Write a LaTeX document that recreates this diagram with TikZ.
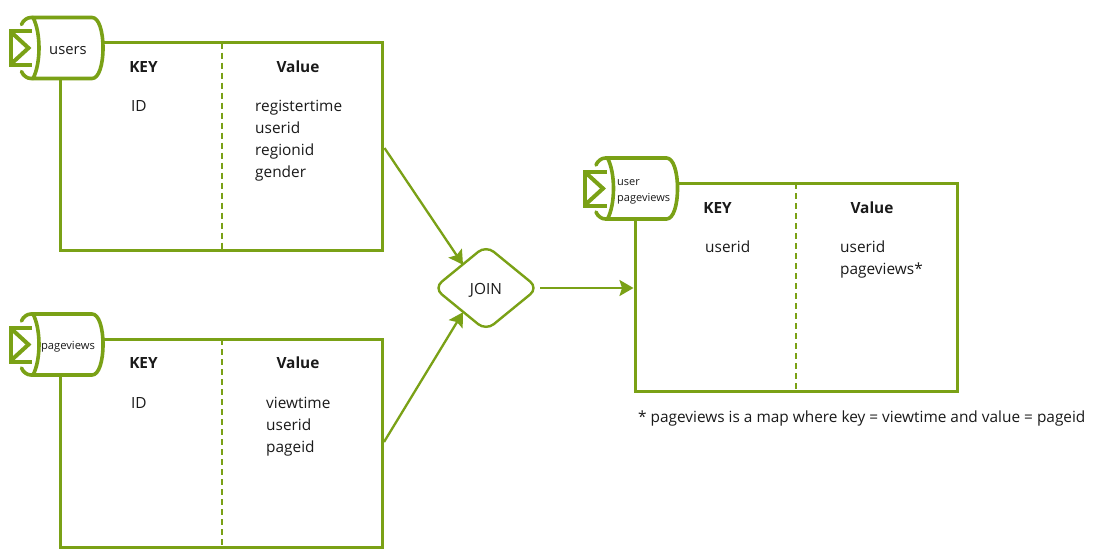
\documentclass[tikz,border=0pt]{standalone}
\usepackage{fontspec}
\setmainfont{Open Sans}
\usetikzlibrary{arrows.meta,shapes.geometric,calc}
\definecolor{aws}{HTML}{7AA116}
\definecolor{ink}{HTML}{1A1A1A}
\tikzset{
  tbl/.style={draw=aws,line width=3pt,rectangle,minimum width=322pt,minimum height=208pt,inner sep=0pt,outer sep=0pt,anchor=north west},
  divider/.style={draw=aws,line width=2pt,dash pattern=on 6pt off 4pt},
  flow/.style={draw=aws,line width=2.3pt,-{Stealth[length=14pt,width=16pt,inset=2.5pt]}},
  head/.style={font=\fontsize{15.4}{18}\selectfont\bfseries,text=ink,inner sep=0pt,anchor=base},
  cell/.style={font=\fontsize{15.4}{18}\selectfont,text=ink,inner sep=0pt,anchor=base west},
  topictxt/.style={text=ink,inner sep=0pt},
  topicline/.style={draw=aws,line width=3.6pt,line cap=round,line join=round},
  topicicon/.style={draw=aws,line width=4pt,line join=miter},
  topicpic/.pic={
    \path[topicline,fill=white] (33,0) -- (92,0) .. controls (99,0) and (103,14) .. (103,30.5) .. controls (103,47) and (99,61) .. (92,61) -- (33,61) .. controls (41,46) and (41,15) .. (33,0);
    \path[topicline] (33,0) -- (31,0) .. controls (27,0) and (23,3) .. (21.5,7);
    \path[topicline] (33,61) -- (31,61) .. controls (27,61) and (23,58) .. (21.5,54);
    \path[topicicon] (32,13.5) -- (10.5,13.5) -- (10.5,47.5) -- (32,47.5);
    \path[topicicon] (11,14.5) -- (28.5,30.5) -- (11,46.5);
  }
}
\begin{document}
\begin{tikzpicture}[x=1pt,y=-1pt]
\useasboundingbox (0,0) rectangle (1093,558);
\fill[white] (0,0) rectangle (1093,558);
% tables
\node[tbl] (t1) at (60.5,42.5) {};
\node[tbl] (t2) at (60.5,339) {};
\node[tbl] (t3) at (635,183) {};
\draw[divider] ($(t1.north west)+(161.5,0)$) -- ($(t1.south west)+(161.5,0)$);
\draw[divider] ($(t2.north west)+(161.5,0)$) -- ($(t2.south west)+(161.5,0)$);
\draw[divider] ($(t3.north west)+(161,0)$) -- ($(t3.south west)+(161,0)$);
% topics
\pic at (0,17.5) {topicpic};
\pic at (0,314) {topicpic};
\pic at (574.5,158) {topicpic};
\node[topictxt,font=\fontsize{14.8}{16}\selectfont,anchor=base] (n1) at (68,54) {users};
\node[topictxt,font=\fontsize{11.2}{12}\selectfont,anchor=base] (n2) at (68,349) {pageviews};
\node[topictxt,font=\fontsize{11}{12}\selectfont,anchor=base west] (n3a) at (617,185) {user};
\node[topictxt,font=\fontsize{11}{12}\selectfont,anchor=base west] (n3b) at (617,201.5) {pageviews};
% table 1
\node[head] (k1) at (143.5,72.5) {KEY};
\node[head] (v1) at (298,72.5) {Value};
\node[cell] (i1) at (131,111) {ID};
\node[cell] (a1) at (255,111) {registertime};
\node[cell] (a2) at (255,133) {userid};
\node[cell] (a3) at (255,155) {regionid};
\node[cell] (a4) at (255,177) {gender};
% table 2
\node[head] (k2) at (143.5,368.5) {KEY};
\node[head] (v2) at (298,368.5) {Value};
\node[cell] (i2) at (131,408) {ID};
\node[cell] (b1) at (266,408) {viewtime};
\node[cell] (b2) at (266,430) {userid};
\node[cell] (b3) at (266,452) {pageid};
% table 3
\node[head] (k3) at (717.5,213.5) {KEY};
\node[head] (v3) at (872,213.5) {Value};
\node[cell] (i3) at (705,252) {userid};
\node[cell] (c1) at (840,252) {userid};
\node[cell] (c2) at (840,274) {pageviews*};
\node[cell] (note) at (638,422.5) {* pageviews is a map where key = viewtime and value = pageid};
% join
\node[diamond,aspect=1.22,draw=aws,line width=2.4pt,rounded corners=10pt,minimum width=104pt,minimum height=85pt,inner sep=0pt,outer sep=0pt] (join) at (486,288) {};
\node[topictxt,font=\fontsize{15.4}{17}\selectfont,anchor=base] (joinlabel) at (486,294) {JOIN};
% connectors
\coordinate (o1) at ($(t1.north east)+(2,105.5)$);
\coordinate (o2) at ($(t2.north east)+(1.5,103)$);
\coordinate (o3) at (540,288);
\draw[flow] (o1) -- ([xshift=3pt,yshift=2pt]join.north west);
\draw[flow] (o2) -- ([xshift=3pt,yshift=-3pt]join.south west);
\draw[flow] (o3) -- ([xshift=-1.5pt]t3.west |- o3);
\end{tikzpicture}
\end{document}
